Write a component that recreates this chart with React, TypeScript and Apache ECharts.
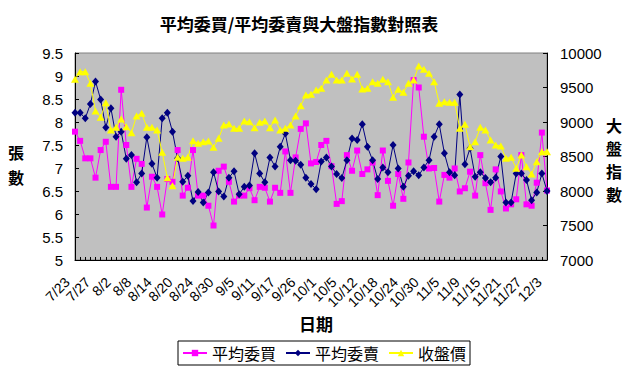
import React, { useEffect, useRef } from "react";
import * as echarts from "echarts";

const dates = [
  "7/23", "7/24", "7/25", "7/26",
  "7/27", "7/30", "7/31", "8/1",
  "8/2", "8/3", "8/6", "8/7",
  "8/8", "8/9", "8/10", "8/13",
  "8/14", "8/15", "8/16", "8/17",
  "8/20", "8/21", "8/22", "8/23",
  "8/24", "8/27", "8/28", "8/29",
  "8/30", "8/31", "9/3", "9/4",
  "9/5", "9/6", "9/7", "9/10",
  "9/11", "9/12", "9/13", "9/14",
  "9/17", "9/20", "9/24", "9/25",
  "9/26", "9/27", "9/28", "9/29",
  "10/1", "10/2", "10/3", "10/4",
  "10/5", "10/8", "10/9", "10/11",
  "10/12", "10/15", "10/16", "10/17",
  "10/18", "10/19", "10/22", "10/23",
  "10/24", "10/25", "10/26", "10/29",
  "10/30", "10/31", "11/1", "11/2",
  "11/5", "11/6", "11/7", "11/8",
  "11/9", "11/12", "11/13", "11/14",
  "11/15", "11/16", "11/19", "11/20",
  "11/21", "11/22", "11/23", "11/26",
  "11/27", "11/28", "11/29", "11/30",
  "12/3",
];

const buyAvg = [
  7.79, 7.59, 7.21, 7.21, 6.79, 7.39, 7.57, 6.59, 6.59, 8.7,
  7.5, 6.59, 7.2, 7.09, 6.14, 6.81, 6.59, 5.99, 6.76, 6.7,
  7.39, 6.4, 6.57, 7.39, 6.4, 6.4, 6.18, 5.75, 6.94, 7.03,
  6.7, 6.27, 6.4, 6.4, 6.56, 6.3, 6.59, 6.57, 6.27, 6.57,
  6.46, 7.36, 6.46, 7.23, 7.85, 7.97, 7.1, 7.13, 7.5, 7.59,
  7.04, 6.22, 6.28, 7.28, 6.94, 7.38, 6.87, 6.97, 7.12, 6.41,
  7.38, 6.72, 6.18, 6.87, 6.33, 7.12, 8.91, 8.75, 7.68, 6.99,
  7.0, 6.27, 6.85, 6.79, 6.99, 6.49, 6.56, 6.92, 6.4, 7.28,
  6.67, 6.09, 6.97, 6.49, 6.12, 6.21, 6.32, 7.28, 6.21, 6.18,
  6.68, 7.77, 6.51,
];

const sellAvg = [
  8.2, 8.2, 8.08, 8.39, 8.88, 8.49, 7.88, 8.3, 7.68, 7.79,
  7.2, 7.28, 6.69, 6.88, 7.67, 7.09, 6.79, 8.08, 8.2, 7.79,
  7.21, 6.7, 6.83, 6.28, 6.48, 6.25, 6.47, 6.91, 6.49, 6.38,
  6.79, 6.93, 6.43, 6.59, 6.62, 7.32, 6.88, 6.69, 7.23, 7.03,
  7.46, 7.75, 7.17, 7.16, 7.07, 6.79, 6.65, 6.54, 7.14, 7.23,
  7.03, 6.87, 6.78, 7.17, 7.64, 7.61, 7.95, 7.46, 7.17, 6.76,
  7.01, 6.91, 7.5, 6.99, 6.59, 6.83, 6.93, 6.84, 7.01, 7.17,
  7.68, 7.95, 7.32, 6.91, 6.84, 8.6, 7.08, 7.43, 6.81, 6.91,
  6.78, 6.69, 6.79, 7.25, 6.25, 6.25, 6.88, 6.88, 6.74, 6.3,
  6.47, 6.88, 6.5,
];

const closeIdx = [
  9618, 9730, 9730, 9560, 9159, 9068, 9280, 8884, 8923, 9043,
  8932, 8845, 9087, 9126, 8923, 8923, 8884, 8560, 8193, 8077,
  8488, 8473, 8488, 8729, 8691, 8715, 8724, 8633, 8763, 8956,
  8971, 8908, 8908, 9014, 9005, 8918, 8995, 9014, 8918, 9029,
  8884, 8908, 8956, 9087, 9237, 9391, 9401, 9464, 9488, 9609,
  9691, 9609, 9609, 9705, 9623, 9691, 9478, 9488, 9585, 9560,
  9618, 9585, 9358, 9473, 9430, 9560, 9609, 9812, 9763, 9705,
  9585, 9270, 9295, 9285, 9285, 8908, 8966, 8642, 8715, 8923,
  8884, 8739, 8667, 8652, 8473, 8488, 8328, 8522, 8353, 8246,
  8425, 8570, 8570,
];

const seriesNames = ["平均委買", "平均委賣", "收盤價"];
const titleText = "平均委買/平均委賣與大盤指數對照表";

const CJK = '"Noto Sans CJK TC", "Noto Sans CJK SC", sans-serif';
const LAT = '"Liberation Sans", Arial, sans-serif';

export default function App() {
  const ref = useRef<HTMLDivElement>(null);
  useEffect(() => {
    const chart = echarts.init(ref.current as HTMLDivElement, null, { renderer: "svg" });
    chart.setOption({
      animation: false,
      backgroundColor: "#ffffff",
      textStyle: { fontFamily: LAT },
      grid: {
        left: 75,
        right: 83,
        top: 53,
        bottom: 115,
        show: true,
        backgroundColor: "#C0C0C0",
        borderColor: "#808080",
        borderWidth: 1,
      },
      legend: {
        data: seriesNames,
        left: 178,
        top: 341,
        itemWidth: 24,
        itemHeight: 8,
        itemGap: 9,
        padding: [4, 4, 4, 4],
        borderColor: "#000",
        borderWidth: 1,
        textStyle: { fontSize: 16, color: "#000", fontFamily: CJK },
      },
      xAxis: {
        type: "category",
        data: dates,
        boundaryGap: false,
        axisLine: { lineStyle: { color: "#000", width: 1 } },
        axisTick: { interval: 0, inside: true, length: 3, lineStyle: { color: "#000" } },
        axisLabel: {
          interval: 3,
          rotate: 45,
          color: "#000",
          fontSize: 14,
          margin: 12,
          padding: [0, 11, 0, 0],
          fontFamily: LAT,
        },
        splitLine: { show: false },
      },
      yAxis: [
        {
          type: "value",
          min: 5,
          max: 9.5,
          interval: 0.5,
          position: "left",
          axisLine: { show: true, lineStyle: { color: "#000" } },
          axisTick: { show: true, inside: true, length: 4, lineStyle: { color: "#000" } },
          axisLabel: { color: "#000", fontSize: 15, margin: 12, fontFamily: LAT },
          splitLine: { show: false },
        },
        {
          type: "value",
          min: 7000,
          max: 10000,
          interval: 500,
          position: "right",
          axisLine: { show: true, lineStyle: { color: "#000" } },
          axisTick: { show: true, inside: true, length: 4, lineStyle: { color: "#000" } },
          axisLabel: {
            color: "#000",
            fontSize: 15,
            margin: 13,
            fontFamily: LAT,
            formatter: (v: number) => String(v),
          },
          splitLine: { show: false },
        },
      ],
      series: [
        {
          name: seriesNames[0],
          type: "line",
          data: buyAvg,
          yAxisIndex: 0,
          symbol: "rect",
          symbolSize: 6,
          showAllSymbol: true,
          lineStyle: { color: "#FF00FF", width: 1 },
          itemStyle: { color: "#FF00FF" },
        },
        {
          name: seriesNames[1],
          type: "line",
          data: sellAvg,
          yAxisIndex: 0,
          symbol: "diamond",
          symbolSize: [7, 8],
          showAllSymbol: true,
          lineStyle: { color: "#000080", width: 1 },
          itemStyle: { color: "#000080" },
        },
        {
          name: seriesNames[2],
          type: "line",
          data: closeIdx,
          yAxisIndex: 1,
          symbol: "triangle",
          symbolSize: [8, 7],
          showAllSymbol: true,
          lineStyle: { color: "#FFFF00", width: 1 },
          itemStyle: { color: "#FFFF00" },
        },
      ],
      graphic: [
        {
          type: "text",
          x: 299,
          y: 23,
          style: {
            text: titleText,
            font: `bold 17px ${CJK}`,
            fill: "#000",
            align: "center",
            verticalAlign: "middle",
            textAlign: "center",
            textVerticalAlign: "middle",
          },
        },
        {
          type: "text",
          x: 16,
          y: 164,
          style: {
            text: "張\n數",
            font: `bold 16px ${CJK}`,
            lineHeight: 25,
            fill: "#000",
            align: "center",
            verticalAlign: "middle",
            textAlign: "center",
            textVerticalAlign: "middle",
          },
        },
        {
          type: "text",
          x: 614,
          y: 159,
          style: {
            text: "大\n盤\n指\n數",
            font: `bold 16px ${CJK}`,
            lineHeight: 23,
            fill: "#000",
            align: "center",
            verticalAlign: "middle",
            textAlign: "center",
            textVerticalAlign: "middle",
          },
        },
        {
          type: "text",
          x: 316,
          y: 323,
          style: {
            text: "日期",
            font: `bold 17px ${CJK}`,
            fill: "#000",
            align: "center",
            verticalAlign: "middle",
            textAlign: "center",
            textVerticalAlign: "middle",
          },
        },
      ],
    });
    return () => chart.dispose();
  }, []);
  return (
    <div
      ref={ref}
      style={{ position: "fixed", left: 0, top: 0, width: 630, height: 375, background: "#fff" }}
    />
  );
}
